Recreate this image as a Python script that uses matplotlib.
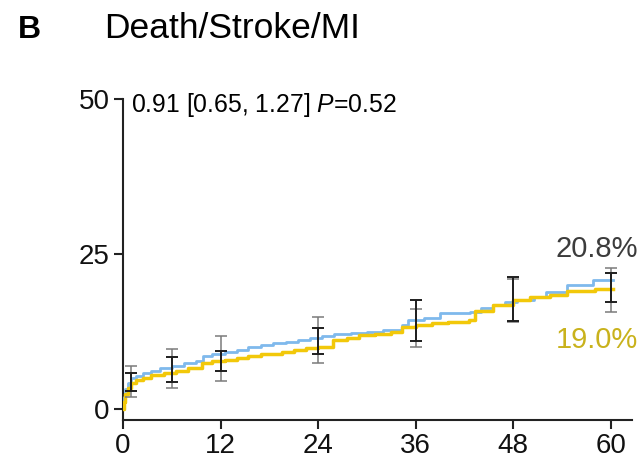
import matplotlib
matplotlib.use("Agg")
import matplotlib.pyplot as plt
import numpy as np

# Kaplan-Meier style cumulative event curves (%)
blue_t = [0, 0.1, 0.3, 0.6, 1.0, 1.6, 2.5, 3.5, 4.5, 6.0,
          7.5, 9.0, 9.9, 11.0, 12.5, 14.0, 15.4, 17.0, 18.5, 20.0,
          21.5, 23.0, 24.5, 26.0, 28.0, 30.0, 32.0, 34.3, 35.0, 37.0,
          39.0, 42.7, 44.0, 45.5, 47.0, 48.5, 50.5, 52.0, 54.6, 57.8, 60.3]
blue_v = [0, 2.0, 3.3, 4.3, 5.0, 5.4, 5.8, 6.2, 6.6, 7.0,
          7.4, 7.8, 8.6, 8.9, 9.3, 9.6, 10.0, 10.3, 10.6, 10.9,
          11.2, 11.5, 11.8, 12.1, 12.3, 12.5, 12.7, 13.5, 14.3, 14.7,
          15.5, 15.7, 16.3, 16.8, 17.2, 17.6, 18.0, 18.9, 20.0, 20.8, 20.8]

yel_t = [0, 0.1, 0.3, 0.6, 1.0, 1.6, 2.5, 3.5, 5.0, 6.5,
         8.0, 9.7, 11.0, 12.5, 14.0, 15.4, 17.0, 19.5, 21.0, 22.5,
         24.0, 25.8, 27.5, 29.0, 31.0, 33.0, 34.3, 36.0, 38.0, 40.0,
         42.5, 43.3, 45.5, 48.0, 50.0, 52.5, 54.6, 58.0, 60.3]
yel_v = [0, 1.2, 2.5, 3.5, 4.3, 4.7, 5.1, 5.5, 5.8, 6.2,
         6.6, 7.5, 7.7, 8.0, 8.3, 8.6, 8.9, 9.2, 9.5, 9.8,
         10.1, 11.1, 11.5, 12.0, 12.2, 12.4, 13.3, 13.6, 13.9, 14.1,
         14.4, 15.9, 16.8, 17.6, 18.0, 18.4, 19.0, 19.3, 19.3]

# confidence intervals at the marked months
ci_t = [1, 6, 12, 24, 36, 48, 60]
blue_lo = [2.0, 3.5, 4.5, 7.4, 10.0, 14.0, 15.6]
blue_hi = [7.0, 9.7, 11.8, 14.8, 16.1, 21.0, 22.7]
yel_lo = [3.0, 4.4, 6.1, 8.9, 11.0, 14.2, 17.3]
yel_hi = [5.8, 8.4, 9.4, 13.1, 17.6, 21.3, 21.9]

x_ticks = [0, 12, 24, 36, 48, 60]
y_ticks = [0, 25, 50]

plt.rcParams['font.family'] = ['Liberation Sans', 'DejaVu Sans']
plt.rcParams['mathtext.fontset'] = 'custom'
plt.rcParams['mathtext.rm'] = 'Liberation Sans'
plt.rcParams['mathtext.it'] = 'Liberation Sans:italic'

W, H = 642, 461
fig = plt.figure(figsize=(W / 100, H / 100), dpi=100)
ax = fig.add_axes([123 / W, 41 / H, (632 - 123) / W, (420 - 98.7) / H])

blue = '#7fb9ec'
yellow = '#f2c80a'

ax.step(blue_t, blue_v, where='post', color=blue, lw=2.0, zorder=3)
ax.step(yel_t, yel_v, where='post', color=yellow, lw=2.5, zorder=3)

def bars(t, lo, hi, color, lw):
    lo = np.array(lo)
    hi = np.array(hi)
    ax.errorbar(t, (lo + hi) / 2, yerr=(hi - lo) / 2, fmt='none',
                ecolor=color, elinewidth=lw, capsize=4, capthick=lw, zorder=4)

bars(ci_t, blue_lo, blue_hi, '#7a7a7a', 1.1)
bars(ci_t, yel_lo, yel_hi, '#1e1e1e', 1.4)

ax.set_xlim(0, 62.6)
ax.set_ylim(-1.72, 50)
ax.set_xticks(x_ticks)
ax.set_yticks(y_ticks)
ax.spines['top'].set_visible(False)
ax.spines['right'].set_visible(False)
for s in ['left', 'bottom']:
    ax.spines[s].set_linewidth(1.5)
    ax.spines[s].set_color('#222222')
ax.tick_params(axis='both', direction='out', length=6.5, width=1.5,
               labelsize=20, color='#222222', labelcolor='#111111')
ax.tick_params(axis='y', pad=3)
ax.tick_params(axis='x', pad=3)

fig.text(18 / W, 1 - 38 / H, 'B', fontsize=23, fontweight='bold', va='baseline')
fig.text(104 / W, 1 - 38 / H, 'Death/Stroke/MI', fontsize=25.5, va='baseline')
fig.text(131 / W, 1 - 112 / H, r'0.91 [0.65, 1.27] $\it{P}$=0.52',
         fontsize=17.8, va='baseline')
fig.text(638 / W, 1 - 257 / H, '20.8%', fontsize=21, color='#3c3c3c',
         ha='right', va='baseline')
fig.text(638 / W, 1 - 348 / H, '19.0%', fontsize=21, color='#c9b21c',
         ha='right', va='baseline')

plt.savefig('out.png', dpi=100)
